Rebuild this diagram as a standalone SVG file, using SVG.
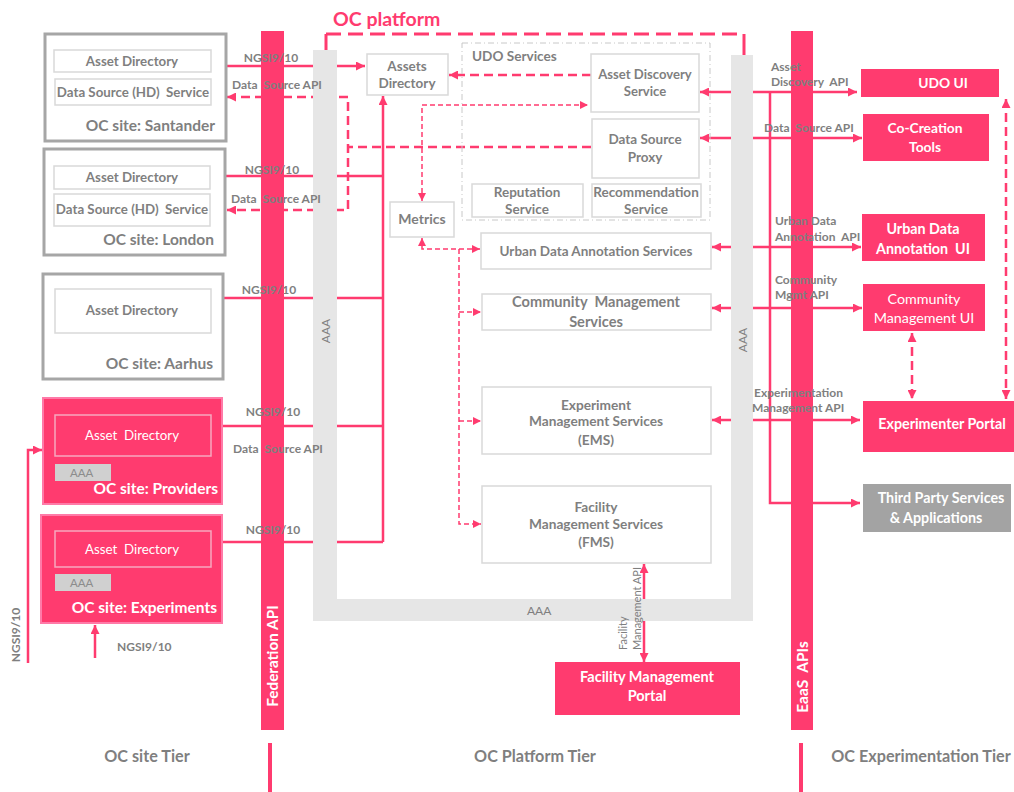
<svg xmlns="http://www.w3.org/2000/svg" width="1014" height="792" viewBox="0 0 1014 792" xml:space="preserve">
<style>
text{font-family:Lato,"Open Sans","Liberation Sans",sans-serif;white-space:pre;}
.g{fill:#7f7f7f;font-weight:bold;}
.gr{fill:#7f7f7f;}
.w{fill:#fff;font-weight:bold;}
.wr{fill:#fff;}
.c{text-anchor:middle;}
.e{text-anchor:end;}
.lbl{font-size:12px;}
.pl{stroke:#ff3b6f;stroke-width:2.5;fill:none;}
.pd{stroke-dasharray:9 5;}
.pt{stroke:#ff3b6f;stroke-width:1.5;fill:none;stroke-dasharray:5 3;}
.box{fill:#fff;stroke:#d9d9d9;stroke-width:1.5;}
.site{fill:#fff;stroke:#a6a6a6;stroke-width:3;}
.psite{fill:#ff3b6f;stroke:#ff7aa8;stroke-width:2;}
.pin{fill:#ff3b6f;stroke:#f7a8bf;stroke-width:1.5;}
.pk{fill:#ff3b6f;}
.aaa{fill:#e6e6e6;}
.st{font-size:15.5px;}
.sb{font-size:13.3px;}
.nb{font-size:13.5px;}
.rb{font-size:14.3px;}
</style>
<defs>
<marker id="ah" viewBox="0 0 10 10" refX="10" refY="5" markerWidth="10" markerHeight="9" markerUnits="userSpaceOnUse" orient="auto-start-reverse"><path d="M0,0 L10,5 L0,10 z" fill="#ff3b6f"/></marker>
<marker id="as" viewBox="0 0 10 10" refX="10" refY="5" markerWidth="8" markerHeight="8" markerUnits="userSpaceOnUse" orient="auto-start-reverse"><path d="M0,0 L10,5 L0,10 z" fill="#ff3b6f"/></marker>
</defs>
<g id="oc-platform">
<path d="M326,52 V34" stroke="#ff3b6f" stroke-width="3" fill="none"/>
<path d="M744,34 V56" stroke="#ff3b6f" stroke-width="3" fill="none"/>
<path d="M326,34 H744" stroke="#ff3b6f" stroke-width="3" fill="none" stroke-dasharray="15 7"/>
<text x="333" y="26" font-size="19.5" font-weight="bold" fill="#ff3b6f">OC platform</text>
</g>
<g id="connectors">
<path class="pl" d="M226,66 H365" marker-end="url(#ah)"/>
<path class="pl pd" d="M227,97 H348 V210 H227" marker-start="url(#ah)" marker-end="url(#ah)"/>
<path class="pl pd" d="M591,147 H348"/>
<path class="pl" d="M226,176 H383"/>
<path class="pl" d="M223,298 H383"/>
<path class="pl" d="M222,426 H383"/>
<path class="pl" d="M222,542 H383"/>
<path class="pl" d="M383,542 V96" marker-end="url(#ah)"/>
<path class="pl pd" d="M591,75 H449" marker-end="url(#ah)"/>
<path class="pt" d="M422,201 V105 H588" marker-start="url(#as)" marker-end="url(#as)"/>
<path class="pt" d="M422,238 V249 H480" marker-start="url(#as)" marker-end="url(#as)"/>
<path class="pt" d="M459,249 V524 H481" marker-end="url(#as)"/>
<path class="pt" d="M459,312 H481" marker-end="url(#as)"/>
<path class="pt" d="M459,421 H481" marker-end="url(#as)"/>
<path class="pl" d="M700,92 H857" marker-start="url(#ah)" marker-end="url(#ah)"/>
<path class="pl" d="M700,138 H862" marker-start="url(#ah)" marker-end="url(#ah)"/>
<path class="pl" d="M712,247 H861" marker-start="url(#ah)" marker-end="url(#ah)"/>
<path class="pl" d="M712,308 H862" marker-start="url(#ah)" marker-end="url(#ah)"/>
<path class="pl" d="M712,420 H860" marker-start="url(#ah)" marker-end="url(#ah)"/>
<path class="pl" d="M770,92 V503 H860" marker-end="url(#ah)"/>
<path class="pl pd" d="M912,333 V399" marker-start="url(#ah)" marker-end="url(#ah)"/>
<path class="pl pd" d="M1006,99 V399" marker-start="url(#ah)" marker-end="url(#ah)"/>
<path class="pl" d="M644,564 V662" marker-start="url(#ah)" marker-end="url(#ah)"/>
<path class="pl" d="M28,663 V450 H42" marker-end="url(#ah)"/>
<path class="pl" d="M95,658 V625" marker-end="url(#ah)"/>
</g>
<g id="aaa">
<path class="aaa" d="M313,50 H337 V599 H731 V55 H753 V621 H313 Z"/>
<text class="gr c" font-size="12" transform="rotate(-90 330 331)" x="330" y="331">AAA</text>
<text class="gr c" font-size="12" transform="rotate(-90 747 340)" x="747" y="340">AAA</text>
<text class="gr" font-size="12" x="527" y="615">AAA</text>
</g>
<g id="federation-api">
<rect class="pk" x="261" y="31" width="23" height="699"/>
<text class="w c" font-size="15.3" transform="rotate(-90 278 656)" x="278" y="656">Federation API</text>
</g>
<g id="eaas-apis">
<rect class="pk" x="791" y="31" width="22" height="699"/>
<text class="w c" font-size="15.5" transform="rotate(-90 808 677)" x="808" y="677">EaaS  APIs</text>
</g>
<g id="connector-labels">
<text class="g lbl c" x="271" y="62">NGSI9/10</text>
<text class="g lbl c" x="277" y="89">Data  Source API</text>
<text class="g lbl c" x="272" y="174">NGSI9/10</text>
<text class="g lbl c" x="276" y="203">Data  Source API</text>
<text class="g lbl c" x="269" y="294">NGSI9/10</text>
<text class="g lbl c" x="273" y="416">NGSI9/10</text>
<text class="g lbl c" x="278" y="453">Data  Source API</text>
<text class="g lbl c" x="273" y="534">NGSI9/10</text>
<text class="g lbl" x="117" y="651">NGSI9/10</text>
<text class="g lbl c" transform="rotate(-90 20 635)" x="20" y="635">NGSI9/10</text>
<text class="g lbl" x="771" y="71">Asset</text>
<text class="g lbl" x="771" y="86">Discovery  API</text>
<text class="g lbl" x="764" y="132">Data  Source API</text>
<text class="g lbl" x="775" y="225">Urban Data</text>
<text class="g lbl" x="775" y="241">Annotation  API</text>
<text class="g lbl" x="775" y="284">Community</text>
<text class="g lbl" x="775" y="299">Mgmt API</text>
<text class="g lbl" x="754" y="397">Experimentation</text>
<text class="g lbl" x="752" y="412">Management API</text>
<text class="gr" font-size="11" transform="rotate(-90 641 650)" x="641" y="650">Management API</text>
<text class="gr" font-size="11" transform="rotate(-90 627 650)" x="627" y="650">Facility</text>
</g>
<g id="site-santander">
<rect class="site" x="45" y="34" width="181" height="107"/>
<rect class="box" x="54" y="50" width="157" height="22"/>
<text class="g c sb" x="132" y="66">Asset Directory</text>
<rect class="box" x="55" y="79" width="156" height="26"/>
<text class="g c sb" x="133" y="97">Data Source (HD)  Service</text>
<text class="g e st" x="215" y="131">OC site: Santander</text>
</g>
<g id="site-london">
<rect class="site" x="44" y="149" width="181" height="106"/>
<rect class="box" x="54" y="166" width="156" height="23"/>
<text class="g c sb" x="132" y="182">Asset Directory</text>
<rect class="box" x="54" y="194" width="156" height="32"/>
<text class="g c sb" x="132" y="214">Data Source (HD)  Service</text>
<text class="g e st" x="214" y="245">OC site: London</text>
</g>
<g id="site-aarhus">
<rect class="site" x="43" y="274" width="180" height="105"/>
<rect class="box" x="55" y="289" width="156" height="44"/>
<text class="g c sb" x="132" y="315">Asset Directory</text>
<text class="g e st" x="213" y="369">OC site: Aarhus</text>
</g>
<g id="site-providers">
<rect class="psite" x="43" y="398" width="179" height="106"/>
<rect class="pin" x="55" y="415" width="156" height="41"/>
<text class="wr c sb" x="132" y="440">Asset  Directory</text>
<rect x="55" y="464" width="56" height="17" fill="#d0d0d0"/>
<text fill="#8c8c8c" font-size="11.5" x="70" y="477">AAA</text>
<text class="w e st" x="218" y="494">OC site: Providers</text>
</g>
<g id="site-experiments">
<rect class="psite" x="41" y="515" width="181" height="108"/>
<rect class="pin" x="55" y="531" width="156" height="36"/>
<text class="wr c sb" x="132" y="554">Asset  Directory</text>
<rect x="55" y="574" width="56" height="17" fill="#d0d0d0"/>
<text fill="#8c8c8c" font-size="11.5" x="70" y="587">AAA</text>
<text class="w e st" x="217" y="613">OC site: Experiments</text>
</g>
<g id="assets-directory">
<rect class="box" x="367" y="54" width="81" height="41"/>
<text class="g c nb" x="407" y="71">Assets</text>
<text class="g c nb" x="407" y="88">Directory</text>
</g>
<g id="udo-services">
<rect x="462" y="43" width="248" height="177" fill="none" stroke="#c8c8c8" stroke-width="1" stroke-dasharray="6 3 1 3"/>
<text class="g" font-size="13.6" x="472" y="61">UDO Services</text>
</g>
<g id="asset-discovery">
<rect class="box" x="591" y="54" width="108" height="58"/>
<text class="g c" font-size="13.1" x="645" y="79">Asset Discovery</text>
<text class="g c" font-size="13.1" x="645" y="96">Service</text>
</g>
<g id="data-source-proxy">
<rect class="box" x="592" y="119" width="107" height="59"/>
<text class="g c nb" x="645" y="144">Data Source</text>
<text class="g c nb" x="645" y="162">Proxy</text>
</g>
<g id="reputation">
<rect class="box" x="472" y="184" width="111" height="33"/>
<text class="g c nb" x="527" y="197">Reputation</text>
<text class="g c nb" x="527" y="214">Service</text>
</g>
<g id="recommendation">
<rect class="box" x="592" y="184" width="109" height="33"/>
<text class="g c nb" x="646" y="197">Recommendation</text>
<text class="g c nb" x="646" y="214">Service</text>
</g>
<g id="metrics">
<rect class="box" x="390" y="202" width="64" height="35"/>
<text class="g c" font-size="14" x="422" y="224">Metrics</text>
</g>
<g id="udas">
<rect class="box" x="481" y="233" width="230" height="36"/>
<text class="g c nb" x="596" y="256">Urban Data Annotation Services</text>
</g>
<g id="cms">
<rect class="box" x="482" y="294" width="229" height="36"/>
<text class="g c" font-size="14.6" x="596" y="307">Community  Management</text>
<text class="g c" font-size="14.6" x="596" y="327">Services</text>
</g>
<g id="ems">
<rect class="box" x="482" y="387" width="229" height="67"/>
<text class="g c" font-size="13.7" x="596" y="410">Experiment</text>
<text class="g c" font-size="13.7" x="596" y="426">Management Services</text>
<text class="g c" font-size="13.7" x="596" y="445">(EMS)</text>
</g>
<g id="fms">
<rect class="box" x="482" y="486" width="229" height="77"/>
<text class="g c" font-size="13.7" x="596" y="512">Facility</text>
<text class="g c" font-size="13.7" x="596" y="529">Management Services</text>
<text class="g c" font-size="13.7" x="596" y="547">(FMS)</text>
</g>
<g id="fm-portal">
<rect class="pk" x="555" y="662" width="185" height="53"/>
<text class="w c" font-size="14.5" x="647" y="682">Facility Management</text>
<text class="w c" font-size="14.5" x="647" y="701">Portal</text>
</g>
<g id="udo-ui">
<rect class="pk" x="861" y="69" width="138" height="28"/>
<text class="w c" font-size="13.8" x="943" y="88">UDO UI</text>
</g>
<g id="co-creation">
<rect class="pk" x="863" y="114" width="126" height="47"/>
<text class="w c" font-size="13.8" x="925" y="133">Co-Creation</text>
<text class="w c" font-size="13.8" x="925" y="152">Tools</text>
</g>
<g id="uda-ui">
<rect class="pk" x="862" y="214" width="123" height="47"/>
<text class="w c rb" x="923" y="234">Urban Data</text>
<text class="w c rb" x="923" y="254">Annotation  UI</text>
</g>
<g id="cm-ui">
<rect class="pk" x="863" y="284" width="122" height="47"/>
<text class="wr c rb" x="924" y="304">Community</text>
<text class="wr c rb" x="924" y="323">Management UI</text>
</g>
<g id="experimenter-portal">
<rect class="pk" x="863" y="401" width="151" height="51"/>
<text class="w c rb" x="942" y="429">Experimenter Portal</text>
</g>
<g id="third-party">
<rect x="863" y="484" width="148" height="48" fill="#a3a3a3"/>
<text class="w c rb" x="941" y="503">Third Party Services</text>
<text class="w c rb" x="936" y="523">&amp; Applications</text>
</g>
<g id="tiers">
<rect class="pk" x="268" y="743" width="4" height="49"/>
<rect class="pk" x="799" y="743" width="4" height="49"/>
<text class="g c" font-size="16.2" x="147" y="762">OC site Tier</text>
<text class="g c" font-size="16.2" x="535" y="762">OC Platform Tier</text>
<text class="g c" font-size="16.2" x="921" y="762">OC Experimentation Tier</text>
</g>
</svg>
